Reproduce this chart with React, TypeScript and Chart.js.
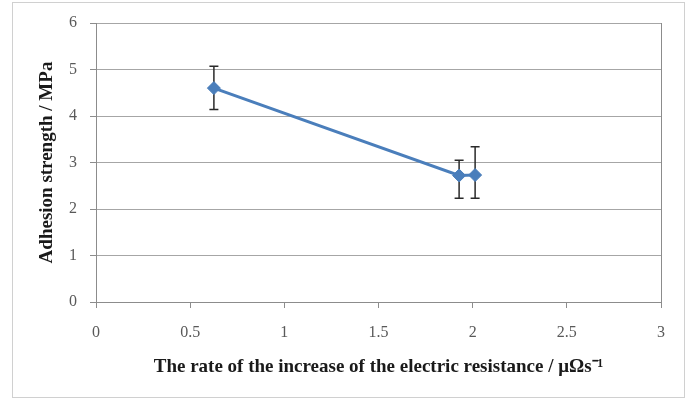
import React, { useEffect, useRef } from "react";
import { Chart, registerables } from "chart.js";

Chart.register(...registerables);

const xValues = [0.626, 1.928, 2.013];
const yValues = [4.6, 2.72, 2.73];
const errUpper = [5.07, 3.05, 3.34];
const errLower = [4.14, 2.23, 2.23];
const xTicks = [0, 0.5, 1, 1.5, 2, 2.5, 3];
const yTicks = [0, 1, 2, 3, 4, 5, 6];

const frameAndErrors = {
  id: "frameAndErrors",
  beforeDraw(chart: any) {
    const ctx = chart.ctx;
    ctx.save();
    ctx.fillStyle = "#ffffff";
    ctx.fillRect(0, 0, chart.width, chart.height);
    ctx.strokeStyle = "#d0d0d0";
    ctx.lineWidth = 1;
    ctx.strokeRect(12.5, 2.5, 672, 395);
    ctx.restore();
  },
  beforeDatasetsDraw(chart: any) {
    const ctx = chart.ctx;
    const xs = chart.scales.x;
    const ys = chart.scales.y;
    ctx.save();
    ctx.strokeStyle = "#2a2a2a";
    ctx.lineWidth = 1.5;
    for (let i = 0; i < xValues.length; i++) {
      const px = xs.getPixelForValue(xValues[i]);
      const pt = ys.getPixelForValue(errUpper[i]);
      const pb = ys.getPixelForValue(errLower[i]);
      ctx.beginPath();
      ctx.moveTo(px, pt);
      ctx.lineTo(px, pb);
      ctx.moveTo(px - 4.5, pt);
      ctx.lineTo(px + 4.5, pt);
      ctx.moveTo(px - 4.5, pb);
      ctx.lineTo(px + 4.5, pb);
      ctx.stroke();
    }
    ctx.restore();
  },
};

export default function App() {
  const ref = useRef<HTMLCanvasElement | null>(null);
  useEffect(() => {
    document.body.style.margin = "0";
    if (!ref.current) return;
    const chart = new Chart(ref.current, {
      type: "scatter",
      data: {
        datasets: [
          {
            data: xValues.map((x, i) => ({ x, y: yValues[i] })),
            showLine: true,
            borderColor: "#4a7ebb",
            backgroundColor: "#4a7ebb",
            borderWidth: 3,
            pointStyle: "rectRot",
            pointRadius: 6.5,
            pointBorderWidth: 1,
          },
        ],
      },
      options: {
        animation: false,
        responsive: false,
        layout: { padding: { top: 23, right: 30, left: 0, bottom: 0 } },
        plugins: { legend: { display: false }, tooltip: { enabled: false } },
        scales: {
          x: {
            type: "linear",
            min: 0,
            max: 3,
            afterBuildTicks: (s: any) => {
              s.ticks = xTicks.map((v) => ({ value: v }));
            },
            afterFit: (s: any) => {
              s.height = 98;
            },
            ticks: {
              padding: 15,
              color: "#595959",
              font: { family: "Liberation Serif", size: 16 },
              callback: (v: any) => String(v),
            },
            grid: {
              color: (c: any) => (c.tick && c.tick.value === 3 ? "#8c8c8c" : "transparent"),
              tickColor: "#8c8c8c",
              tickLength: 6,
            },
            border: { color: "#8c8c8c" },
            title: {
              display: true,
              text: "The rate of the increase of the electric resistance / μΩs⁻¹",
              color: "#1a1a1a",
              font: { family: "Liberation Serif", size: 19, weight: "bold" },
              padding: { top: 0, bottom: 22 },
            },
          },
          y: {
            type: "linear",
            min: 0,
            max: 6,
            afterBuildTicks: (s: any) => {
              s.ticks = yTicks.map((v) => ({ value: v }));
            },
            afterFit: (s: any) => {
              s.width = 96;
            },
            ticks: {
              padding: 13,
              color: "#595959",
              font: { family: "Liberation Serif", size: 16 },
            },
            grid: {
              color: "#a6a6a6",
              tickColor: "#8c8c8c",
              tickLength: 6,
            },
            border: { color: "#8c8c8c" },
            title: {
              display: true,
              text: "Adhesion strength / MPa",
              color: "#1a1a1a",
              font: { family: "Liberation Serif", size: 19, weight: "bold" },
              padding: { top: 36, bottom: 0 },
            },
          },
        },
      },
      plugins: [frameAndErrors],
    });
    return () => chart.destroy();
  }, []);
  return <canvas ref={ref} width={691} height={400} style={{ display: "block" }} />;
}
